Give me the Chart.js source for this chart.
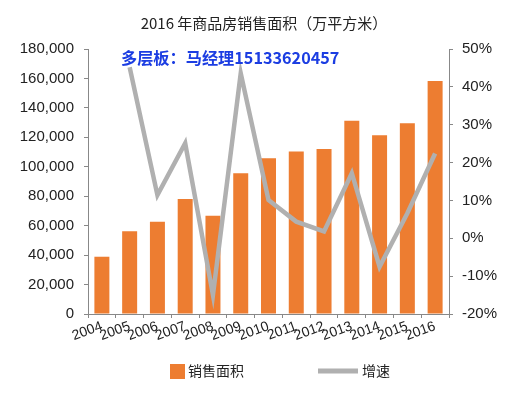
<!DOCTYPE html>
<html>
<head>
<meta charset="utf-8">
<script src="https://cdn.jsdelivr.net/npm/chart.js@4"></script>
<style>
  html, body { margin: 0; padding: 0; background: #fff; }
  #wrap { position: relative; width: 528px; height: 398px; }
  #mark {
    position: absolute; left: 121px; top: 47px;
    font: bold 16.2px "Noto Sans CJK SC", sans-serif; line-height: 20px;
    color: #1b3de2; white-space: nowrap;
  }
</style>
</head>
<body>
<div id="wrap">
  <canvas id="chart" width="528" height="398"></canvas>
  <div id="mark">多层板：马经理15133620457</div>
</div>
<script>
const years = ['2004', '2005', '2006', '2007', '2008', '2009', '2010', '2011', '2012', '2013', '2014', '2015', '2016'];
const salesArea = [38900, 56200, 62700, 78100, 66800, 95600, 105800, 110300, 112100, 131300, 121400, 129500, 158300];
const growth = [null, 45.2, 11.4, 25.1, -15.0, 43.6, 10.1, 4.4, 1.8, 17.2, -7.5, 6.6, 22.4];

const tickFont = { family: '"Liberation Sans", Arial, sans-serif', size: 15 };

function formatNumber(num) {
  return num.toString().replace(/\B(?=(\d{3})+(?!\d))/g, ',');
}

// legend drawn by hand so the spacing can match the original
const bottomLegend = {
  id: 'bottomLegend',
  afterDraw(chart) {
    const ctx = chart.ctx;
    const bar = chart.data.datasets[1];
    const line = chart.data.datasets[0];
    const y = 371;
    ctx.save();
    ctx.font = '14px "Noto Sans CJK SC", sans-serif';
    ctx.textBaseline = 'middle';
    ctx.fillStyle = bar.backgroundColor;
    ctx.fillRect(170, y - 7, 15, 15);
    ctx.fillStyle = '#222';
    ctx.fillText(bar.label, 188, y);
    ctx.strokeStyle = line.borderColor;
    ctx.lineWidth = 5;
    ctx.beginPath();
    ctx.moveTo(318, y);
    ctx.lineTo(358, y);
    ctx.stroke();
    ctx.fillStyle = '#222';
    ctx.fillText(line.label, 362, y);
    ctx.restore();
  }
};

new Chart(document.getElementById('chart'), {
  data: {
    labels: years,
    datasets: [
      {
        type: 'line',
        label: '增速',
        data: growth,
        yAxisID: 'y1',
        borderColor: '#b0b0b0',
        borderWidth: 4.5,
        pointRadius: 0,
        tension: 0,
        order: 0,
      },
      {
        type: 'bar',
        label: '销售面积',
        data: salesArea,
        yAxisID: 'y',
        backgroundColor: '#ed7d31',
        barPercentage: 0.54,
        categoryPercentage: 1,
        order: 1,
      },
    ],
  },
  options: {
    responsive: false,
    animation: false,
    layout: { padding: { left: 0, right: 0, top: 0, bottom: 54 } },
    plugins: {
      legend: { display: false },
      tooltip: { enabled: false },
      title: {
        display: true,
        text: '2016 年商品房销售面积（万平方米）',
        color: '#222',
        font: { family: '"Noto Sans CJK SC", sans-serif', size: 15, weight: 'normal' },
        padding: { top: 14, bottom: 17 },
      },
    },
    scales: {
      x: {
        offset: true,
        grid: { drawOnChartArea: false, offset: true, tickLength: 4, color: '#888' },
        border: { color: '#888' },
        ticks: {
          color: '#222',
          font: { family: tickFont.family, size: 14 },
          autoSkip: false,
          minRotation: 20,
          maxRotation: 20,
          padding: 0,
        },
        afterFit(scale) { scale.height = 30; },
      },
      y: {
        position: 'left',
        min: 0,
        max: 180000,
        grid: { drawOnChartArea: false, tickLength: 4, color: '#888' },
        border: { color: '#888' },
        ticks: { stepSize: 20000, color: '#222', font: tickFont, padding: 10, callback: v => formatNumber(v) },
        afterFit(scale) { scale.width = 88; },
      },
      y1: {
        position: 'right',
        min: -20,
        max: 50,
        grid: { drawOnChartArea: false, tickLength: 4, color: '#888' },
        border: { color: '#888' },
        ticks: { stepSize: 10, color: '#222', font: tickFont, padding: 9, callback: v => v + '%' },
        afterFit(scale) { scale.width = 79; },
      },
    },
  },
  plugins: [bottomLegend],
});
</script>
</body>
</html>
